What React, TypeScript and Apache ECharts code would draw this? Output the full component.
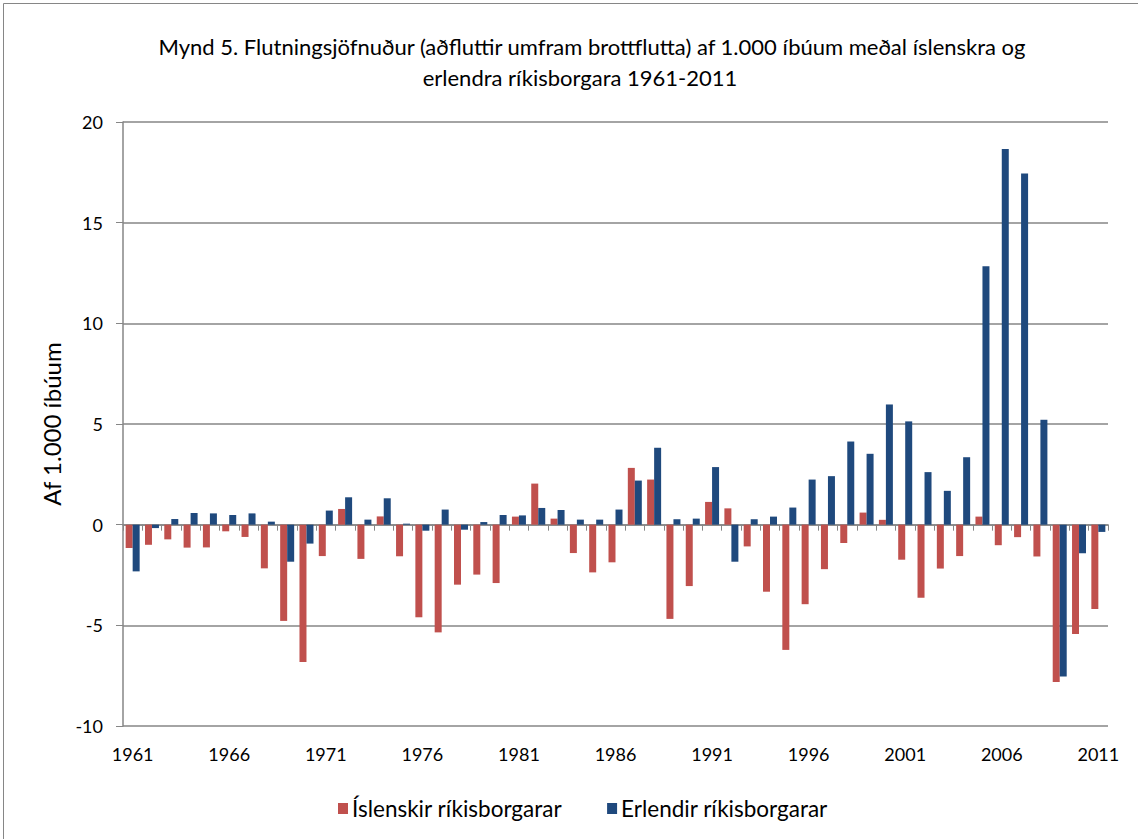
import React, { useEffect, useRef } from "react";
import * as echarts from "echarts";

const years: string[] = [];
for (let y = 1961; y <= 2011; y++) years.push(String(y));

const titleLines = [
  "Mynd 5. Flutningsjöfnuður (aðfluttir umfram brottflutta) af 1.000 íbúum meðal íslenskra og",
  "erlendra ríkisborgara 1961-2011",
];
const yAxisName = "Af 1.000 íbúum";
const seriesNames = ["Íslenskir ríkisborgarar", "Erlendir ríkisborgarar"];

// 1961..2011
const islenskir = [
  -1.16, -1.0, -0.73, -1.14, -1.13, -0.33, -0.61, -2.17, -4.78, -6.82,
  -1.56, 0.78, -1.7, 0.41, -1.57, -4.6, -5.35, -2.98, -2.48, -2.9,
  0.4, 2.04, 0.3, -1.41, -2.37, -1.87, 2.82, 2.24, -4.68, -3.05,
  1.13, 0.81, -1.08, -3.33, -6.22, -3.95, -2.21, -0.91, 0.6, 0.24,
  -1.74, -3.63, -2.18, -1.56, 0.4, -1.02, -0.62, -1.58, -7.82, -5.43,
  -4.19,
];
const erlendir = [
  -2.32, -0.17, 0.28, 0.58, 0.56, 0.48, 0.56, 0.15, -1.84, -0.94,
  0.7, 1.36, 0.25, 1.31, 0.05, -0.3, 0.75, -0.25, 0.13, 0.48,
  0.46, 0.83, 0.73, 0.25, 0.25, 0.75, 2.19, 3.82, 0.27, 0.3,
  2.86, -1.84, 0.27, 0.4, 0.85, 2.24, 2.41, 4.13, 3.52, 5.97,
  5.13, 2.61, 1.68, 3.35, 12.83, 18.66, 17.44, 5.21, -7.54, -1.42,
  -0.36,
];

const FONT = "Lato, 'Noto Sans', sans-serif";
const GRID = "#868686";

export default function App() {
  const ref = useRef<HTMLDivElement>(null);
  useEffect(() => {
    if (!ref.current) return;
    const chart = echarts.init(ref.current, null, { renderer: "svg" });
    chart.setOption({
      animation: false,
      backgroundColor: "#ffffff",
      textStyle: { fontFamily: FONT },
      graphic: [
        {
          type: "rect",
          shape: { x: 3.5, y: 3.5, width: 1140, height: 840 },
          style: { fill: "none", stroke: GRID, lineWidth: 1 },
          silent: true,
        },
        {
          type: "text",
          x: 592,
          y: 46,
          style: {
            text: titleLines[0],
            font: `22px ${FONT}`,
            fill: "#000",
            textAlign: "center",
            textVerticalAlign: "middle",
          },
        },
        {
          type: "text",
          x: 580,
          y: 77,
          style: {
            text: titleLines[1],
            font: `22px ${FONT}`,
            fill: "#000",
            textAlign: "center",
            textVerticalAlign: "middle",
          },
        },
      ],
      legend: {
        left: 333,
        top: 792,
        itemWidth: 10,
        itemHeight: 11,
        itemGap: 45,
        icon: "rect",
        textStyle: { fontSize: 22.5, color: "#000", fontFamily: FONT, padding: [0, 0, 0, -1] },
        data: seriesNames,
      },
      grid: { left: 123, right: 30, top: 122, bottom: 113 },
      xAxis: [
        {
          type: "category",
          data: years,
          axisLine: { onZero: true, lineStyle: { color: GRID, width: 1.5 } },
          axisTick: { show: true, length: 6, interval: 0, lineStyle: { color: GRID } },
          axisLabel: { show: false },
          splitLine: { show: false },
        },
        {
          type: "category",
          data: years,
          position: "bottom",
          axisLine: { show: false, onZero: false },
          axisTick: { show: false },
          axisLabel: { interval: 4, fontSize: 18, color: "#000", margin: 19, fontFamily: FONT },
          splitLine: { show: false },
        },
      ],
      yAxis: {
        type: "value",
        min: -10,
        max: 20,
        interval: 5,
        name: yAxisName,
        nameLocation: "middle",
        nameGap: 60,
        nameTextStyle: { fontSize: 24, color: "#000", fontFamily: FONT },
        axisLine: { show: true, lineStyle: { color: GRID, width: 1.5 } },
        axisTick: { show: true, length: 7, lineStyle: { color: GRID } },
        axisLabel: { fontSize: 18, color: "#000", margin: 20, fontFamily: FONT },
        splitLine: { show: true, lineStyle: { color: GRID, width: 1.5 } },
      },
      series: [
        {
          name: seriesNames[0],
          type: "bar",
          data: islenskir,
          xAxisIndex: 0,
          barWidth: 7,
          barGap: "0%",
          itemStyle: { color: "#C0504D" },
        },
        {
          name: seriesNames[1],
          type: "bar",
          data: erlendir,
          xAxisIndex: 0,
          barWidth: 7,
          barGap: "0%",
          itemStyle: { color: "#1F497D" },
        },
      ],
    });
    return () => chart.dispose();
  }, []);
  return (
    <div
      ref={ref}
      style={{ position: "absolute", left: 0, top: 0, width: 1138, height: 839 }}
    />
  );
}
